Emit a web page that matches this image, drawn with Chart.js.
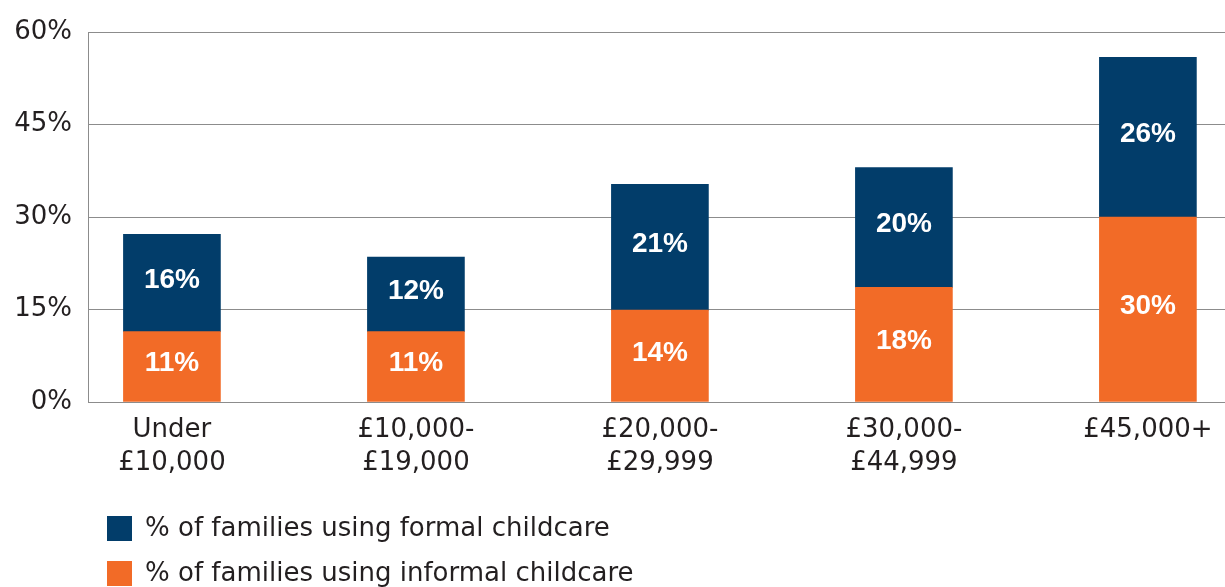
<!DOCTYPE html>
<html>
<head>
<meta charset="utf-8">
<script src="https://cdn.jsdelivr.net/npm/chart.js@4"></script>
<style>
  body { margin: 0; background: #fff; }
  canvas { display: block; }
</style>
</head>
<body>
<canvas id="myChart" width="1225" height="587"></canvas>
<script>
// income bands
var categories = [['Under', '£10,000'], ['£10,000-', '£19,000'], ['£20,000-', '£29,999'], ['£30,000-', '£44,999'], ['£45,000+']];
// bar heights (%)
var informal = [11.4, 11.4, 14.9, 18.6, 30.0];
var formal = [15.8, 12.1, 20.4, 19.4, 25.9];
// printed labels
var informalLabels = ['11%', '11%', '14%', '18%', '30%'];
var formalLabels = ['16%', '12%', '21%', '20%', '26%'];
var yTicks = [0, 15, 30, 45, 60];

var textColor = '#231f20';
var font = '"DejaVu Sans", sans-serif';
var boldFont = '"Liberation Sans", Arial, sans-serif';

// white numbers inside each segment
var segmentLabels = {
  id: 'segmentLabels',
  afterDatasetsDraw: function (chart) {
    var ctx = chart.ctx;
    ctx.save();
    ctx.fillStyle = '#fff';
    ctx.font = 'bold 28px ' + boldFont;
    ctx.textAlign = 'center';
    ctx.textBaseline = 'middle';
    chart.data.datasets.forEach(function (ds, i) {
      chart.getDatasetMeta(i).data.forEach(function (bar, j) {
        var mid = (bar.y + bar.base) / 2;
        ctx.fillText(ds.valueLabels[j], bar.x, mid - 3);
      });
    });
    ctx.restore();
  }
};

// legend stacked vertically, top series first
var stackedLegend = {
  id: 'stackedLegend',
  afterDraw: function (chart) {
    var ctx = chart.ctx;
    var items = chart.data.datasets.slice().reverse();
    ctx.save();
    ctx.font = '26px ' + font;
    ctx.textBaseline = 'middle';
    items.forEach(function (ds, i) {
      var y = 516 + i * 45;
      ctx.fillStyle = ds.backgroundColor;
      ctx.fillRect(107, y, 25, 25);
      ctx.fillStyle = textColor;
      ctx.fillText(ds.label, 145, y + 13);
    });
    ctx.restore();
  }
};

var ctx = document.getElementById('myChart').getContext('2d');
var chart = new Chart(ctx, {
  type: 'bar',
  data: {
    datasets: [{
      label: '% of families using informal childcare',
      backgroundColor: '#f26b27',
      data: informal.map(function (v, i) { return { x: i, y: v }; }),
      valueLabels: informalLabels,
      barThickness: 97
    }, {
      label: '% of families using formal childcare',
      backgroundColor: '#023d6a',
      data: formal.map(function (v, i) { return { x: i, y: v }; }),
      valueLabels: formalLabels,
      barThickness: 97
    }]
  },
  options: {
    responsive: false,
    animation: false,
    layout: { padding: { top: 32, right: 0, left: 0, bottom: 0 } },
    plugins: {
      legend: { display: false },
      tooltip: { enabled: false }
    },
    scales: {
      x: {
        type: 'linear',
        stacked: true,
        offset: false,
        min: -0.344,
        max: 4.316,
        afterBuildTicks: function (scale) {
          scale.ticks = categories.map(function (c, i) { return { value: i }; });
        },
        afterFit: function (scale) { scale.height = 185; },
        grid: { display: false, offset: false },
        border: { display: true, color: '#8c8c8c', width: 1 },
        ticks: {
          autoSkip: false,
          maxRotation: 0,
          padding: 4,
          color: textColor,
          font: { family: font, size: 26, lineHeight: 1.25 },
          callback: function (v) { return categories[v]; }
        }
      },
      y: {
        stacked: true,
        min: 0,
        max: 60,
        afterBuildTicks: function (scale) {
          scale.ticks = yTicks.map(function (v) { return { value: v }; });
        },
        afterFit: function (scale) { scale.width = 88; },
        grid: { color: '#8c8c8c', lineWidth: 1, drawTicks: false },
        border: { display: true, color: '#8c8c8c', width: 1 },
        ticks: {
          padding: 16,
          color: textColor,
          font: { family: font, size: 26 },
          callback: function (v) { return v + '%'; }
        }
      }
    }
  },
  plugins: [segmentLabels, stackedLegend]
});
</script>
</body>
</html>
